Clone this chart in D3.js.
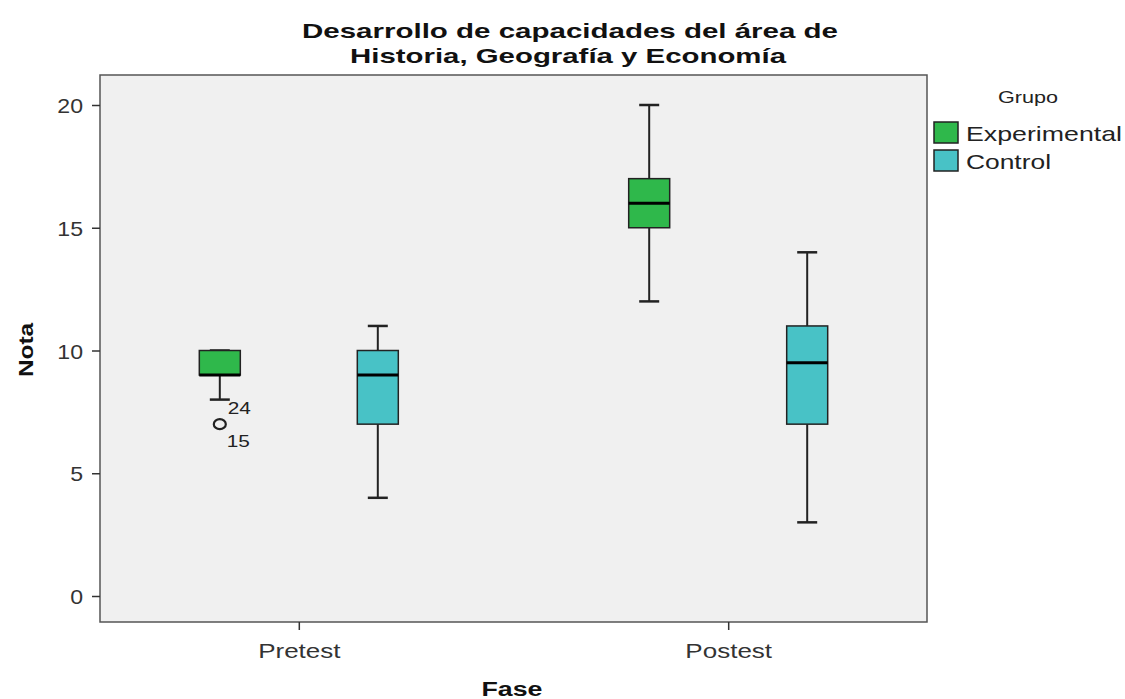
<!DOCTYPE html>
<html><head><meta charset="utf-8">
<script src="https://d3js.org/d3.v7.min.js"></script>
<style>body{margin:0;background:#fff}svg{display:block}text{font-family:"Liberation Sans",Arial,sans-serif}</style>
</head><body>
<svg id="c" width="1125" height="699"></svg>
<script>
const phases = ["Pretest", "Postest"];
const groups = ["Experimental", "Control"];
const colors = ["#2fb84b", "#48c2c6"];
// [phase, group, min, q1, median, q3, max]
const boxes = [
  ["Pretest", "Experimental", 8, 9, 9, 10, 10],
  ["Pretest", "Control", 4, 7, 9, 10, 11],
  ["Postest", "Experimental", 12, 15, 16, 17, 20],
  ["Postest", "Control", 3, 7, 9.5, 11, 14]
];
// [phase, group, value, labels]
const outliers = [["Pretest", "Experimental", 7, ["24", "15"]]];
const yTicks = [0, 5, 10, 15, 20];

const svg = d3.select("#c");
const L = 100, R = 927, T = 75, B = 622;
const y = d3.scaleLinear().domain([0, 20]).range([596, 105]);
const x = d3.scalePoint().domain(phases).range([L, R]).padding(0.463);
const g = d3.scaleOrdinal().domain(groups).range([-79, 79]);
const col = d3.scaleOrdinal().domain(groups).range(colors);
const bw = 41, cap = 20;
const STRETCH = 1.3;

function fit(sel) {
  sel.each(function () {
    const w = this.getComputedTextLength();
    d3.select(this).attr("textLength", w * STRETCH).attr("lengthAdjust", "spacingAndGlyphs");
  });
  return sel;
}

svg.append("rect").attr("x", L).attr("y", T).attr("width", R - L).attr("height", B - T)
  .attr("fill", "#f0f0f0").attr("stroke", "#555").attr("stroke-width", 1.5);

const ya = svg.append("g").attr("transform", `translate(${L},0)`)
  .call(d3.axisLeft(y).tickValues(yTicks).tickSize(8).tickPadding(0));
ya.select(".domain").remove();
ya.selectAll("line").attr("stroke", "#333").attr("stroke-width", 1.5);
ya.selectAll("text").attr("font-size", 21).attr("fill", "#333").attr("x", -17).attr("dy", "0.36em")
  .attr("font-family", "Liberation Sans, Arial, sans-serif")
  .each(function () { const w = this.getComputedTextLength(); d3.select(this).attr("textLength", w * 1.1).attr("lengthAdjust", "spacingAndGlyphs"); });

const xa = svg.append("g").attr("transform", `translate(0,${B})`)
  .call(d3.axisBottom(x).tickSize(8).tickPadding(14));
xa.select(".domain").remove();
xa.selectAll("line").attr("stroke", "#333").attr("stroke-width", 1.5);
xa.selectAll("text").attr("font-size", 20).attr("fill", "#333").attr("font-family", "Liberation Sans, Arial, sans-serif");
fit(xa.selectAll("text"));

const bx = svg.append("g");
boxes.forEach(([ph, gr, mn, q1, md, q3, mx]) => {
  const cx = x(ph) + g(gr);
  const s = bx.append("g").attr("stroke", "#222");
  s.append("line").attr("x1", cx).attr("x2", cx).attr("y1", y(mx)).attr("y2", y(q3)).attr("stroke-width", 2);
  s.append("line").attr("x1", cx).attr("x2", cx).attr("y1", y(q1)).attr("y2", y(mn)).attr("stroke-width", 2);
  s.append("line").attr("x1", cx - cap / 2).attr("x2", cx + cap / 2).attr("y1", y(mx)).attr("y2", y(mx)).attr("stroke-width", 2.5);
  s.append("line").attr("x1", cx - cap / 2).attr("x2", cx + cap / 2).attr("y1", y(mn)).attr("y2", y(mn)).attr("stroke-width", 2.5);
  s.append("rect").attr("x", cx - bw / 2).attr("y", y(q3)).attr("width", bw).attr("height", y(q1) - y(q3))
    .attr("fill", col(gr)).attr("stroke-width", 1.5);
  s.append("line").attr("x1", cx - bw / 2).attr("x2", cx + bw / 2).attr("y1", y(md)).attr("y2", y(md))
    .attr("stroke", "#000").attr("stroke-width", 3);
});
outliers.forEach(([ph, gr, v, labs]) => {
  const cx = x(ph) + g(gr);
  bx.append("ellipse").attr("cx", cx).attr("cy", y(v)).attr("rx", 6).attr("ry", 5).attr("fill", "none")
    .attr("stroke", "#222").attr("stroke-width", 2.2);
  fit(bx.append("text").attr("x", cx + 8).attr("y", y(v) - 10).attr("font-size", 16).attr("fill", "#222").text(labs[0]));
  fit(bx.append("text").attr("x", cx + 7).attr("y", y(v) + 23).attr("font-size", 16).attr("fill", "#222").text(labs[1]));
});

const t1 = svg.append("text").attr("x", 570).attr("y", 38).attr("text-anchor", "middle")
  .attr("font-size", 21).attr("font-weight", "bold").attr("fill", "#111").text("Desarrollo de capacidades del área de");
const t2 = svg.append("text").attr("x", 568).attr("y", 63).attr("text-anchor", "middle")
  .attr("font-size", 21).attr("font-weight", "bold").attr("fill", "#111").text("Historia, Geografía y Economía");
t1.attr("textLength", 536).attr("lengthAdjust", "spacingAndGlyphs");
t2.attr("textLength", 436).attr("lengthAdjust", "spacingAndGlyphs");

svg.append("text").attr("transform", "translate(33,350) rotate(-90)").attr("text-anchor", "middle")
  .attr("font-size", 20).attr("font-weight", "bold").attr("fill", "#111").text("Nota")
  .attr("textLength", 54).attr("lengthAdjust", "spacingAndGlyphs");
svg.append("text").attr("x", 512).attr("y", 696).attr("text-anchor", "middle")
  .attr("font-size", 20).attr("font-weight", "bold").attr("fill", "#111").text("Fase")
  .attr("textLength", 61).attr("lengthAdjust", "spacingAndGlyphs");

const lg = svg.append("g");
lg.append("text").attr("x", 1028).attr("y", 103).attr("text-anchor", "middle").attr("font-size", 17).attr("fill", "#222").text("Grupo")
  .attr("textLength", 60).attr("lengthAdjust", "spacingAndGlyphs");
const legW = [156, 85];
groups.forEach((gr, i) => {
  const yy = 122 + i * 28;
  lg.append("rect").attr("x", 934).attr("y", yy).attr("width", 24).attr("height", 21)
    .attr("fill", col(gr)).attr("stroke", "#222").attr("stroke-width", 1.5);
  lg.append("text").attr("x", 966).attr("y", yy + 19).attr("font-size", 21).attr("fill", "#222").text(gr)
    .attr("textLength", legW[i]).attr("lengthAdjust", "spacingAndGlyphs");
});
</script>
</body></html>
